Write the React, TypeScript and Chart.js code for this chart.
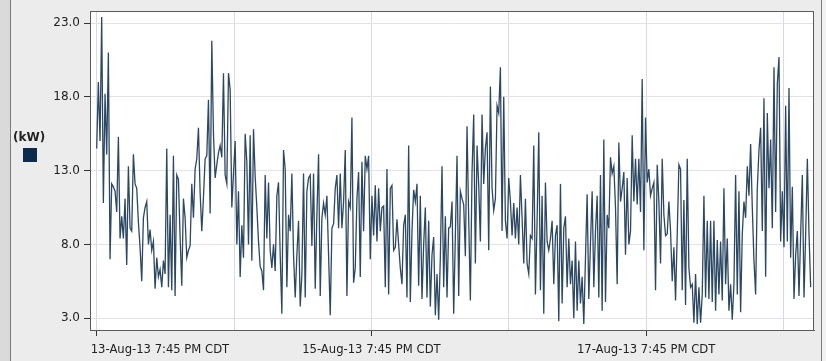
import React, { useEffect, useRef } from "react";
import { Chart, registerables } from "chart.js";

Chart.register(...registerables);

// ---- data (kW, evenly spaced in time) ----
const SPAN_HOURS = 124.75; // first sample 13-Aug-13 7:45 PM CDT -> last sample
const xTickHours = [0, 24, 48, 72, 96, 120];
const xLabelHours = [0, 48, 96];
const xLabels = ["13-Aug-13 7:45 PM CDT", "15-Aug-13 7:45 PM CDT", "17-Aug-13 7:45 PM CDT"];
const yTicks = [3, 8, 13, 18, 23];

const kwPart1 = [14.5, 19, 15, 23.4, 10.8, 18.2, 14.1, 21, 7, 12.1, 11.9, 11.6, 10.2, 15.3, 8.4, 9.9, 8.4, 11.1, 6.6, 13.3, 9.1, 8.9, 14.1, 12.1, 11.8, 9.5, 7.8, 5.5, 9.8, 10.5, 10.9, 8, 9, 7.6, 8.2, 5, 7.1, 5.8, 6.3, 5.1, 6.9, 6, 14.5, 5.1, 10, 4.9, 14, 4.5, 12.7, 12.4, 8.5, 5.2, 11.1, 9.8, 7.1];
const kwPart2 = [7.6, 7.9, 12.1, 9.8, 13.1, 13.8, 15.9, 11.5, 8.9, 11.2, 13.8, 14, 17.8, 10.1, 21.8, 15.5, 12.5, 13.4, 14.2, 14.7, 13.9, 19.6, 12.7, 12.1, 19.6, 18.5, 10.5, 12.8, 15, 8, 11.6, 5.8, 9.3, 7.1, 15.5, 13.6, 8, 15.4, 6.9, 15.8, 12.6, 10.5, 8.2, 6.5, 6.2, 4.9, 12.7, 8.4, 12.2, 7.6, 6.4, 8, 6.2, 11.3, 12.2, 7.3, 3.3];
const kwPart3 = [14.4, 13.1, 5.1, 10, 8.9, 12.8, 7.3, 4.4, 7.3, 9.6, 3.8, 6, 12.8, 4.4, 11.6, 12.5, 12.7, 7.9, 12.8, 5, 10, 14.1, 4.5, 9.8, 10.8, 10, 11.3, 7.3, 3.2, 9.1, 9.4, 11.8, 12.7, 9.1, 12.8, 9.1, 10.9, 14.4, 4.5, 10.9, 10.5, 16.6, 5.4, 6.4, 11.1, 12.9, 5.8, 13.6, 8.9, 14, 13.1, 14, 7, 11.3, 8.6, 12, 8.2, 11.8];
const kwPart4 = [8.9, 10.5, 10.6, 5.1, 13.1, 4.6, 11.8, 12, 7.6, 7.8, 9.7, 8, 6.4, 5.3, 9.3, 10, 4.4, 14.7, 4.1, 8.9, 11.7, 10.9, 12.1, 5.2, 11.3, 4.3, 8, 10.5, 4.4, 9.6, 3.8, 7.3, 8.5, 3.2, 6, 2.9, 7.1, 13.3, 5.1, 9.9, 4.4, 9.1, 9.2, 10.9, 3.3, 8.6, 14, 4.5, 11.6, 11.1, 10.7, 7.2, 16, 9.7, 4.2, 12.9, 16.8, 6.7];
const kwPart5 = [14.7, 12, 8.2, 16.8, 12.1, 14.5, 15.6, 7.6, 18.7, 11.8, 10.3, 11.1, 17.4, 16.9, 20, 8.9, 18, 9.6, 8.4, 12.5, 10.9, 8.6, 10.8, 8.4, 10.5, 8, 12.7, 9.8, 6.7, 11.1, 6.7, 6, 8.6, 8.4, 14.7, 4.6, 9.6, 15.6, 4.9, 11.3, 3.3, 12.2, 8.2, 7.6, 8.4, 9.6, 5.3, 8.6, 9.3, 2.8, 12.1, 4, 9.1, 9.9, 5.1, 8.4, 5.3];
const kwPart6 = [6.9, 3, 8.2, 3.5, 6.9, 4, 5.8, 2.6, 7.1, 11.4, 4.3, 8.1, 11.6, 5.1, 8.9, 11.3, 4.4, 12.7, 3.5, 15.1, 4.1, 10, 9.1, 13.9, 12.8, 13.3, 10.5, 5.3, 14.9, 10.9, 11.8, 12.9, 7.3, 12.5, 8, 8.9, 15.4, 10.9, 13.8, 10.7, 13.8, 10.2, 19.2, 7.6, 16.6, 12.2, 13.1, 11.3, 11.8, 12.2, 4.9, 13.4, 10.9, 6.7, 13.8, 10, 8.6];
const kwPart7 = [8.7, 10.9, 8.9, 5.5, 7.8, 4.2, 8.7, 13.4, 13.1, 4.9, 11, 3.9, 13.8, 6.4, 5.1, 5.3, 2.7, 6, 2.6, 5.1, 2.7, 4.6, 11.3, 4.4, 9.6, 4.3, 9.6, 4.1, 9.6, 3.5, 8.3, 4.6, 8.2, 4.2, 11.8, 5.3, 8.4, 3.5, 5.3, 2.9, 5.3, 12.7, 4.6, 11.6, 3.4];
const kwPart8 = [8.7, 10.9, 9.8, 13.3, 11.3, 14.8, 10.5, 6.9, 4.6, 11.8, 14.4, 15.9, 8.9, 17.9, 5.8, 16.9, 11.8, 15.1, 9.1, 20, 10.2, 18.9, 20.7, 8.2, 11.6, 7.8, 17.4, 8.2, 18.6, 7.1, 11.9, 4.3, 7.3, 8.9, 4.5, 8.7, 12.7, 4.4, 8.7, 13.8, 8.7, 5.1];

const kwSeries = [
  ...kwPart1, ...kwPart2, ...kwPart3, ...kwPart4,
  ...kwPart5, ...kwPart6, ...kwPart7, ...kwPart8,
];

const FONT = "'DejaVu Sans', Verdana, sans-serif";

export default function App() {
  const canvasRef = useRef<HTMLCanvasElement | null>(null);

  useEffect(() => {
    document.body.style.margin = "0";
    const canvas = canvasRef.current;
    if (!canvas) return;
    const step = SPAN_HOURS / (kwSeries.length - 1);
    const points = kwSeries.map((v, i) => ({ x: i * step, y: v }));

    const framePlugin = {
      id: "frame",
      beforeDraw(chart: any) {
        const { ctx, chartArea } = chart;
        ctx.save();
        ctx.fillStyle = "#ffffff";
        ctx.fillRect(chartArea.left, chartArea.top, chartArea.right - chartArea.left, chartArea.bottom - chartArea.top);
        ctx.restore();
      },
      afterDraw(chart: any) {
        const { ctx, chartArea } = chart;
        ctx.save();
        ctx.strokeStyle = "#5a5a5a";
        ctx.lineWidth = 1;
        ctx.strokeRect(
          Math.round(chartArea.left) + 0.5,
          Math.round(chartArea.top) + 0.5,
          Math.round(chartArea.right - chartArea.left) - 1,
          Math.round(chartArea.bottom - chartArea.top)
        );
        const xs = chart.scales.x;
        ctx.font = `11.6px ${FONT}`;
        ctx.fillStyle = "#222";
        ctx.textBaseline = "middle";
        xLabelHours.forEach((h, i) => {
          const px = xs.getPixelForValue(h);
          if (i === 0) {
            ctx.textAlign = "left";
            ctx.fillText(xLabels[i], px - 6, xs.top + 20);
          } else {
            ctx.textAlign = "center";
            ctx.fillText(xLabels[i], px, xs.top + 20);
          }
        });
        ctx.restore();
      },
    };

    const chart = new Chart(canvas, {
      type: "line",
      data: {
        datasets: [
          {
            label: "(kW)",
            data: points,
            borderColor: "#2c4762",
            backgroundColor: "#0d2b4a",
            borderWidth: 1.3,
            pointRadius: 0,
            tension: 0,
            fill: false,
          },
        ],
      },
      options: {
        animation: false,
        responsive: false,
        maintainAspectRatio: false,
        layout: { padding: { left: 0, right: 12, top: 7, bottom: 0 } },
        plugins: { legend: { display: false }, tooltip: { enabled: false } },
        scales: {
          x: {
            type: "linear",
            min: -1.17,
            max: 125.33,
            afterBuildTicks: (s: any) => {
              s.ticks = xTickHours.map((v) => ({ value: v }));
            },
            afterFit: (s: any) => {
              s.height = 31;
            },
            ticks: { display: false },
            grid: {
              color: "#d8d8e6",
              lineWidth: 1,
              drawTicks: true,
              tickLength: 6,
              tickColor: (c: any) =>
                c.tick && xLabelHours.includes(c.tick.value) ? "#333" : "rgba(0,0,0,0)",
            },
            border: { display: true, color: "#5a5a5a" },
          },
          y: {
            type: "linear",
            min: 2.2,
            max: 23.8,
            afterBuildTicks: (s: any) => {
              s.ticks = yTicks.map((v) => ({ value: v }));
            },
            afterFit: (s: any) => {
              s.width = 90;
            },
            ticks: {
              callback: (v: any) => Number(v).toFixed(1),
              font: { family: FONT, size: 12 },
              color: "#222",
              padding: 4,
            },
            grid: { color: "#e3e3e3", lineWidth: 1, drawTicks: true, tickLength: 6, tickColor: "#333" },
            border: { display: true, color: "#5a5a5a" },
          },
        },
      },
      plugins: [framePlugin],
    });
    return () => chart.destroy();
  }, []);

  return (
    <div style={{ position: "absolute", left: 0, top: 0, width: 826, height: 361, background: "#ececec", overflow: "hidden" }}>
      <div style={{ position: "absolute", left: 0, top: 0, width: 10, height: 361, background: "#dadada" }} />
      <div style={{ position: "absolute", left: 10, top: 0, width: 1, height: 361, background: "#7c7c7c" }} />
      <div style={{ position: "absolute", left: 821, top: 0, width: 1, height: 361, background: "#7c7c7c" }} />
      <div style={{ position: "absolute", left: 822, top: 0, width: 4, height: 361, background: "#f2f2f2" }} />
      <canvas ref={canvasRef} width={826} height={361} style={{ position: "absolute", left: 0, top: 0, width: 826, height: 361 }} />
      <div style={{ position: "absolute", left: 13, top: 130, font: `bold 12px ${FONT}`, color: "#222" }}>(kW)</div>
      <div style={{ position: "absolute", left: 23, top: 148, width: 14, height: 14, background: "#0d2b4a" }} />
    </div>
  );
}
